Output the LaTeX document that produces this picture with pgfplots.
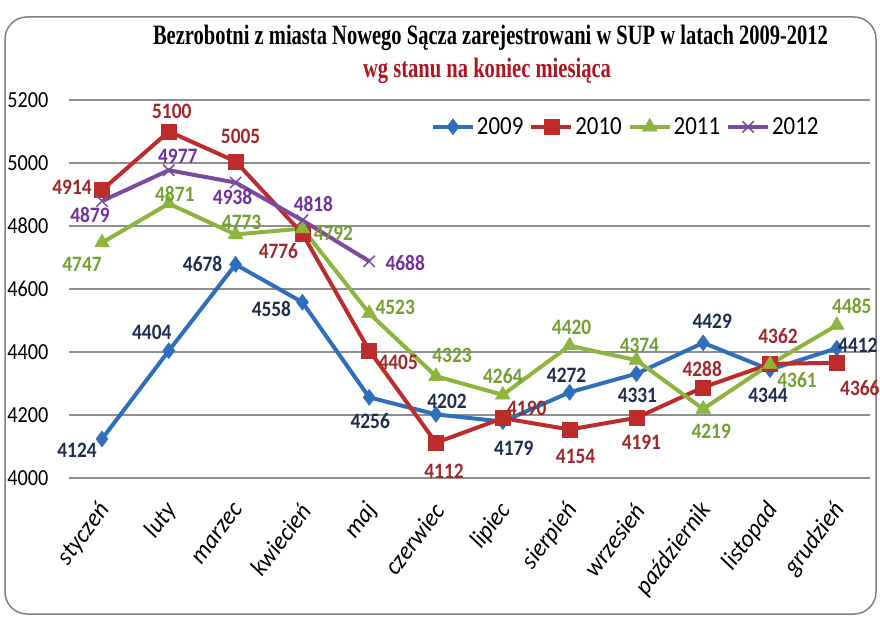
\documentclass[border=0pt]{standalone}
\usepackage{fontspec}
\setmainfont{Carlito}[FakeStretch=0.88]
\newfontfamily\xfont{Carlito}[FakeStretch=0.95]
\newfontfamily\tfont{Liberation Serif}
\usepackage{graphicx}
\usepackage{pgfplots}
\pgfplotsset{compat=1.18}
\usepackage{pgfplotstable}
\definecolor{c09}{HTML}{2F6EBA}
\definecolor{c10}{HTML}{BE2B2B}
\definecolor{c11}{HTML}{8DB43C}
\definecolor{c12}{HTML}{7A4B9F}
\definecolor{l09}{HTML}{1F2D4F}
\definecolor{l10}{HTML}{A0282A}
\definecolor{l11}{HTML}{74A032}
\definecolor{l12}{HTML}{7030A0}
\definecolor{subred}{HTML}{B0141E}
\definecolor{gridc}{HTML}{8F8F8F}

\pgfplotstableread{
x y dx dy
0 4124 -25 -11
1 4404 -17 18
2 4678 -33 0
3 4558 -31 -7
4 4256 1 -24
5 4202 11 13
6 4179 11 -27
7 4272 -3 17
8 4331 1 -22
9 4429 9 22
10 4344 -2 -26
11 4412 21 3
}\tA
\pgfplotstableread{
x y dx dy
0 4914 -30 3
1 5100 3 20
2 5005 5 25
3 4776 -24 -18
4 4405 29 -12
5 4112 8 -29
6 4190 24 10
7 4154 6 -27
8 4191 5 -24
9 4288 -1 18
10 4362 8 28
11 4366 23 -25
}\tB
\pgfplotstableread{
x y dx dy
0 4747 -20 -22
1 4871 6 10
2 4773 6 12
3 4792 31 -5
4 4523 26 6
5 4323 16 21
6 4264 0 19
7 4420 2 18
8 4374 3 15
9 4219 8 -22
10 4361 27 -16
11 4485 15 19
}\tC
\pgfplotstableread{
x y dx dy
0 4879 -12 -14
1 4977 9 14
2 4938 -3 -14
3 4818 11 16
4 4688 36 -2
}\tD

\begin{document}
\begin{tikzpicture}[x=1pt,y=1pt]
\useasboundingbox (0,0) rectangle (880,619);
\draw[rounded corners=22pt, line width=1.5pt, color=gray] (5,5) rectangle (876,602);
\node[anchor=base, inner sep=0pt] at (490.5,574) {\resizebox{675pt}{\height}{\fontsize{28}{30}\selectfont\tfont\bfseries Bezrobotni z miasta Nowego Sącza zarejestrowani w SUP w latach 2009-2012}};
\node[anchor=base, inner sep=0pt, text=subred] at (487,541) {\resizebox{248pt}{\height}{\fontsize{28}{30}\selectfont\tfont\bfseries wg stanu na koniec miesiąca}};
\begin{axis}[
  at={(68.6pt,141pt)}, anchor=south west,
  scale only axis, width=801.6pt, height=378pt,
  xmin=-0.5, xmax=11.5, ymin=4000, ymax=5200,
  axis line style={draw=none},
  major tick length=0pt,
  ytick={4000,4200,...,5200},
  ymajorgrids, grid style={gridc, line width=1.8pt},
  xtick={0,...,11},
  xticklabels={styczeń,luty,marzec,kwiecień,maj,czerwiec,lipiec,sierpień,wrzesień,październik,listopad,grudzień},
  xticklabel style={xshift=3pt, yshift=-28pt, rotate=53, anchor=east, inner sep=0pt, font=\fontsize{25}{27}\selectfont\xfont\itshape},
  yticklabel style={anchor=east, inner sep=0pt, xshift=-20pt, font=\fontsize{23}{25}\selectfont},
  /pgf/number format/assume math mode=true,
  /pgf/number format/1000 sep={},
  clip=false,
  legend columns=4,
  legend style={draw=none, fill=none, at={(0.695,0.929)}, anchor=center, font=\fontsize{26}{28}\selectfont, /tikz/every even column/.append style={column sep=4pt}, /tikz/every odd column/.append style={column sep=0pt}, inner sep=0pt},
  legend cell align=left,
  legend image code/.code={\draw[mark repeat=2,mark phase=2] plot coordinates {(0pt,0pt) (20pt,0pt) (40pt,0pt)};},
  point meta=explicit symbolic,
  nodes near coords,
  visualization depends on={\thisrow{dx}\as\dx},
  visualization depends on={\thisrow{dy}\as\dy},
  every node near coord/.append style={anchor=center, xshift=\dx*1pt, yshift=\dy*1pt, font=\fontsize{22}{24}\selectfont\bfseries, inner sep=0pt},
]
\addplot[c09, line width=4pt, mark=diamond*, mark size=8pt, mark options={fill=c09, line width=0.5pt}, every node near coord/.append style={text=l09}] table[x=x, y=y, meta=y] {\tA};
\addlegendentry{2009}
\addplot[c10, line width=4pt, mark=square*, mark size=7.5pt, mark options={fill=c10, line width=0.5pt}, every node near coord/.append style={text=l10}] table[x=x, y=y, meta=y] {\tB};
\addlegendentry{2010}
\addplot[c11, line width=4pt, mark=triangle*, mark size=8.5pt, mark options={fill=c11, line width=0.5pt}, every node near coord/.append style={text=l11}] table[x=x, y=y, meta=y] {\tC};
\addlegendentry{2011}
\addplot[c12, line width=4pt, mark=x, mark size=8pt, mark options={line width=1.5pt}, every node near coord/.append style={text=l12}] table[x=x, y=y, meta=y] {\tD};
\addlegendentry{2012}
\end{axis}
\end{tikzpicture}
\end{document}
